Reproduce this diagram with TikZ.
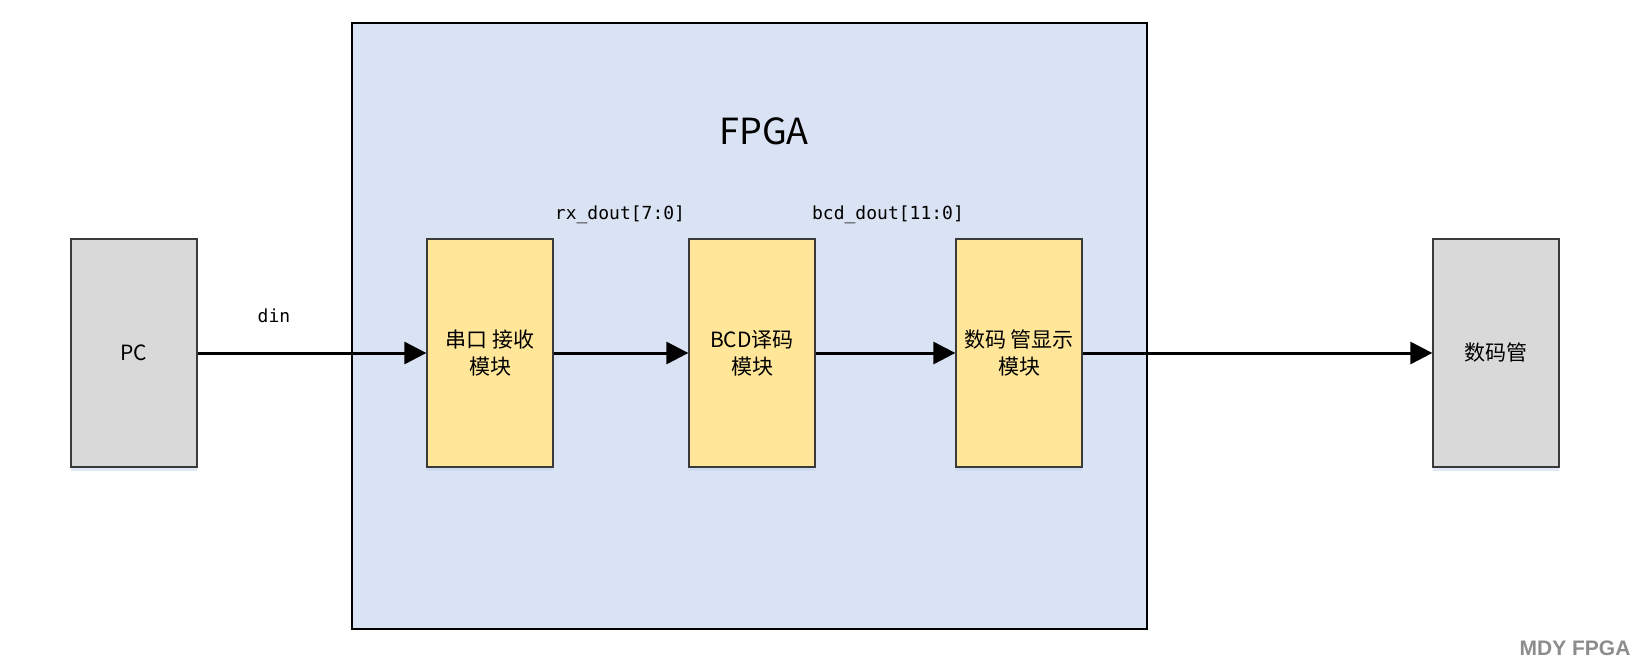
\documentclass[tikz,border=0pt]{standalone}
\usepackage{fontspec}
\usepackage{xcolor}
\setmainfont{Noto Sans CJK SC}
\newfontfamily\sigfont{DejaVu Sans Mono}
\newfontfamily\markfont{Liberation Sans}
\usetikzlibrary{arrows.meta, positioning, shadows}
\definecolor{fpgablue}{HTML}{DAE3F3}
\definecolor{modyellow}{HTML}{FFE699}
\definecolor{extgray}{HTML}{D9D9D9}
\definecolor{edgegray}{HTML}{3A3A3A}
\definecolor{shadowblue}{HTML}{BFD3EE}

\begin{document}
\begin{tikzpicture}[
    x=1pt, y=-1pt,
    fpga/.style={rectangle, draw=black, line width=2.5pt, fill=fpgablue, minimum width=795pt, minimum height=606pt},
    block/.style={rectangle, draw=edgegray, line width=1.3pt, align=center, minimum width=126pt, minimum height=228pt,
        font=\fontsize{21}{27}\selectfont, drop shadow={shadow xshift=0pt, shadow yshift=-4pt, fill=shadowblue, opacity=0.5}},
    module/.style={block, fill=modyellow},
    device/.style={block, fill=extgray},
    siglabel/.style={font=\sigfont\fontsize{18}{18}\selectfont, inner sep=0pt},
    sig/.style={-{Triangle[length=22pt, width=22pt]}, line width=3pt}
]
\useasboundingbox (0,0) rectangle (1652,665);
\node[text=black!45, font=\markfont\bfseries\fontsize{21}{21}\selectfont, inner sep=0pt] (brand) at (1575,648) {MDY FPGA};
% FPGA
\node[fpga] (chip) at (749.5,326) {};
\node[font=\fontsize{36}{36}\selectfont] (title) at (764,131) {FPGA};
% blocks
\node[device] (pc) at (134,353) {PC};
\node[module] (uart) at (490,353) {串口 接收\\模块};
\node[module] (bcd) at (752,353) {BCD译码\\模块};
\node[module] (disp) at (1019,353) {数码 管显示\\模块};
\node[device] (seg) at (1496,353) {数码管};
% signals
\draw[sig] (pc) -- (uart);
\draw[sig] (uart) -- (bcd);
\draw[sig] (bcd) -- (disp);
\draw[sig] (disp) -- (seg);
\node[siglabel] (din) at (274,316) {din};
\node[siglabel] (rxd) at (620,215) {rx\_dout[7:0]};
\node[siglabel] (bcdd) at (888,215) {bcd\_dout[11:0]};
\end{tikzpicture}
\end{document}
